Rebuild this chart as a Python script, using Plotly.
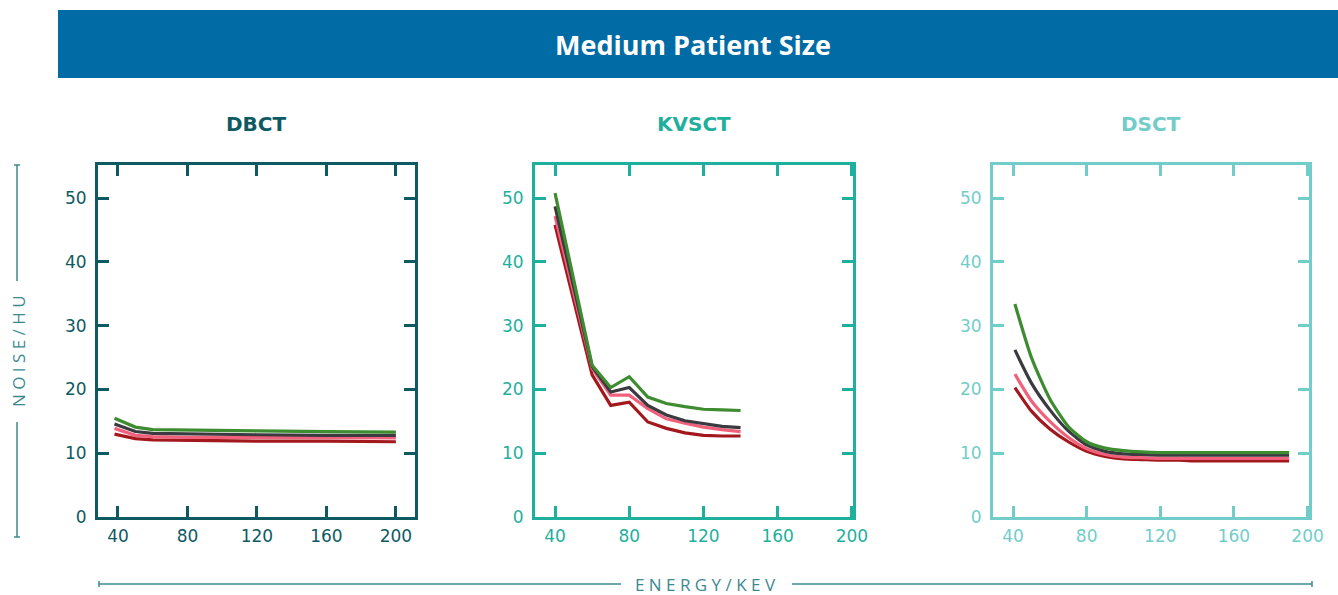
import plotly.graph_objects as go

W, H = 1338, 595

# ---------------- data ----------------
panel_titles = ["DBCT", "KVSCT", "DSCT"]
series_names = ["Green", "Black", "Pink", "Red"]

dbct_energy = [38, 50, 60, 80, 120, 160, 200]
dbct_green = [15.5, 14.1, 13.7, 13.6, 13.5, 13.4, 13.3]
dbct_black = [14.6, 13.4, 13.1, 13.0, 12.9, 12.8, 12.8]
dbct_pink = [13.9, 12.8, 12.6, 12.5, 12.5, 12.4, 12.4]
dbct_red = [13.0, 12.3, 12.1, 12.0, 11.9, 11.9, 11.8]

kv_energy = [40, 60, 70, 80, 90, 100, 110, 120, 130, 140]
kv_green = [50.8, 23.8, 20.3, 22.0, 18.8, 17.8, 17.3, 16.9, 16.8, 16.7]
kv_black = [48.7, 23.6, 19.6, 20.3, 17.5, 16.0, 15.1, 14.6, 14.2, 14.0]
kv_pink = [47.2, 23.3, 19.1, 19.1, 17.0, 15.4, 14.7, 14.1, 13.7, 13.4]
kv_red = [45.8, 22.3, 17.5, 18.0, 14.9, 13.9, 13.2, 12.8, 12.7, 12.7]

ds_energy = [41, 50, 60, 70, 80, 90, 100, 110, 120, 130, 140, 150, 160, 170, 180, 190]
ds_green = [33.4, 25.0, 18.5, 14.2, 11.8, 10.8, 10.4, 10.2, 10.1, 10.1, 10.1, 10.1, 10.1, 10.1, 10.1, 10.1]
ds_black = [26.2, 21.0, 16.8, 13.5, 11.3, 10.3, 9.9, 9.8, 9.7, 9.7, 9.7, 9.7, 9.7, 9.7, 9.7, 9.7]
ds_pink = [22.4, 18.2, 15.0, 12.5, 10.7, 9.8, 9.4, 9.3, 9.2, 9.2, 9.2, 9.2, 9.2, 9.2, 9.2, 9.2]
ds_red = [20.3, 16.6, 13.8, 11.8, 10.3, 9.5, 9.1, 9.0, 8.9, 8.9, 8.8, 8.8, 8.8, 8.8, 8.8, 8.8]

x_ticks = [40, 80, 120, 160, 200]
y_ticks = [0, 10, 20, 30, 40, 50]

# ---------------- styling ----------------
series_colors = {"Green": "#3e8c30", "Black": "#3a3a40", "Pink": "#f2617c", "Red": "#a3181c"}
panel_colors = ["#0e5a63", "#1faf9d", "#72cdca"]
banner_color = "#006ba4"
axis_title_color = "#3d8990"
FONT = "Open Sans"
TICK_FONT = "DejaVu Sans"


def px(x):
    return x / W


def py(y):
    return 1 - y / H


panels = [
    (dbct_energy, {"Green": dbct_green, "Black": dbct_black, "Pink": dbct_pink, "Red": dbct_red}, "linear", (98, 415), [28.5, 211]),
    (kv_energy, {"Green": kv_green, "Black": kv_black, "Pink": kv_pink, "Red": kv_red}, "linear", (535, 853), [29.2, 200.6]),
    (ds_energy, {"Green": ds_green, "Black": ds_black, "Pink": ds_pink, "Red": ds_red}, "spline", (993, 1309), [29.1, 200.8]),
]

fig = go.Figure()
layout = dict(
    width=W, height=H, margin=dict(l=0, r=0, t=0, b=0, pad=0, autoexpand=False),
    paper_bgcolor="white", plot_bgcolor="white", showlegend=False,
    font=dict(family=FONT),
)
annotations = []
shapes = []

for i, (xs, data, shape, (x0, x1), xr) in enumerate(panels):
    k = "" if i == 0 else str(i + 1)
    col = panel_colors[i]
    for name in ["Red", "Pink", "Black", "Green"]:
        fig.add_trace(go.Scatter(
            x=xs, y=data[name], mode="lines", name=name,
            line=dict(color=series_colors[name], width=3.2, shape=shape, smoothing=0.6),
            xaxis="x" + k, yaxis="y" + k, hoverinfo="skip"))
    axstyle = dict(
        showline=True, linecolor=col, linewidth=3, mirror="ticks",
        ticks="inside", ticklen=11, tickwidth=3, tickcolor=col,
        showgrid=False, zeroline=False, automargin=False,
        tickfont=dict(family=TICK_FONT, size=17, color=col),
    )
    layout["xaxis" + k] = dict(axstyle, domain=[px(x0), px(x1)], range=xr,
                               tickvals=x_ticks, ticklabelstandoff=2,
                               anchor="y" + k)
    layout["yaxis" + k] = dict(axstyle, domain=[py(517), py(165)], range=[0, 55.2],
                               tickvals=y_ticks, ticklabelstandoff=5,
                               anchor="x" + k)
    annotations.append(dict(
        text="<b>%s</b>" % panel_titles[i], x=px((x0 + x1) / 2), y=py(124),
        xref="paper", yref="paper", showarrow=False, xanchor="center", yanchor="middle",
        font=dict(family=TICK_FONT, size=20, color=col)))

# banner
shapes.append(dict(type="rect", xref="paper", yref="paper", x0=px(58), x1=1, y0=py(78), y1=py(10),
                   fillcolor=banner_color, line=dict(width=0), layer="below"))
annotations.append(dict(text="<b>Medium Patient Size</b>", x=px(693), y=py(45), xref="paper", yref="paper",
                        showarrow=False, xanchor="center", yanchor="middle",
                        font=dict(family=FONT, size=27, color="white")))

# y axis title with brackets
annotations.append(dict(text="N O I S E / H U", x=px(18), y=py(351), xref="paper", yref="paper",
                        showarrow=False, textangle=-90, xanchor="center", yanchor="middle",
                        font=dict(family=FONT, size=17, color=axis_title_color)))
lc = dict(color=axis_title_color, width=1.5)
for (ya, yb) in [(165, 281), (422, 537)]:
    shapes.append(dict(type="line", xref="paper", yref="paper", x0=px(17), x1=px(17), y0=py(ya), y1=py(yb), line=lc))
for yc in [165, 537]:
    shapes.append(dict(type="line", xref="paper", yref="paper", x0=px(14), x1=px(20), y0=py(yc), y1=py(yc), line=lc))

# x axis title with line
annotations.append(dict(text="E N E R G Y / K E V", x=px(705), y=py(584), xref="paper", yref="paper",
                        showarrow=False, xanchor="center", yanchor="middle",
                        font=dict(family=FONT, size=17, color=axis_title_color)))
for (xa, xb) in [(99, 621), (792, 1312)]:
    shapes.append(dict(type="line", xref="paper", yref="paper", x0=px(xa), x1=px(xb), y0=py(584), y1=py(584), line=lc))
for xc in [99, 1312]:
    shapes.append(dict(type="line", xref="paper", yref="paper", x0=px(xc), x1=px(xc), y0=py(581), y1=py(587), line=lc))

layout["annotations"] = annotations
layout["shapes"] = shapes
fig.update_layout(**layout)

page_css = ("var s=document.createElement('style');"
            "s.innerHTML='html,body{margin:0;padding:0;overflow:hidden;}';"
            "document.head.appendChild(s);")
fig.write_html("out.html", config={"displayModeBar": False}, post_script=page_css)
